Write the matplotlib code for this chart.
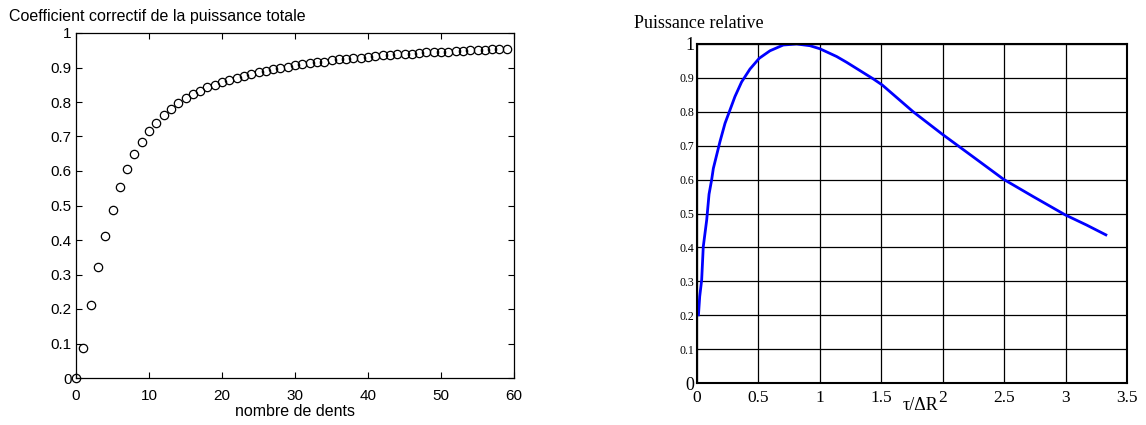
import numpy as np
import matplotlib.pyplot as plt

# left panel: correction coefficient vs number of teeth
dents = np.arange(0, 60)
coef = [0.0, 0.086, 0.212, 0.322, 0.411, 0.488, 0.553, 0.606, 0.649, 0.685,
        0.717, 0.739, 0.762, 0.781, 0.796, 0.811, 0.823, 0.833, 0.843, 0.850,
        0.859, 0.864, 0.869, 0.875, 0.882, 0.888, 0.890, 0.897, 0.900, 0.902,
        0.906, 0.909, 0.912, 0.915, 0.917, 0.921, 0.924, 0.926, 0.927, 0.928,
        0.929, 0.932, 0.935, 0.936, 0.938, 0.939, 0.940, 0.941, 0.944, 0.944,
        0.944, 0.946, 0.947, 0.949, 0.950, 0.950, 0.950, 0.953, 0.953, 0.954]

# right panel: relative power vs tau/dR^2
tau = [0.012, 0.022, 0.038, 0.051, 0.079, 0.098, 0.119, 0.133, 0.187, 0.228,
       0.263, 0.309, 0.363, 0.431, 0.507, 0.594, 0.702, 0.811, 0.919, 1.0,
       1.137, 1.218, 1.435, 1.508, 1.760, 1.996, 2.248, 2.495,
       2.736, 2.997, 3.171, 3.328]
puissance = [0.201, 0.255, 0.304, 0.402, 0.481, 0.557, 0.599, 0.633, 0.712, 0.766,
             0.800, 0.845, 0.888, 0.926, 0.958, 0.980, 0.997, 1.0, 0.995, 0.986,
             0.963, 0.946, 0.897, 0.879, 0.800, 0.734, 0.667, 0.601,
             0.550, 0.496, 0.466, 0.437]

W, H = 1146, 425
fig = plt.figure(figsize=(W / 100, H / 100), dpi=100)

# left axes (pixel box: x 76..514, y 33..378)
ax1 = fig.add_axes([76 / W, 1 - 378 / H, 438 / W, 345 / H])
ax1.plot(dents, coef, 'o', mfc='none', mec='black', ms=6, mew=0.9, clip_on=False)
ax1.set_xlim(0, 60)
ax1.set_ylim(0, 1)
ax1.set_xticks(range(0, 61, 10))
ax1.set_yticks(np.arange(0, 1.01, 0.1))
ax1.set_yticklabels(['0', '0.1', '0.2', '0.3', '0.4', '0.5', '0.6', '0.7', '0.8', '0.9', '1'])
ax1.tick_params(direction='in', top=True, right=True, labelsize=11, length=4, width=0.8)
ax1.tick_params(axis='x', pad=8)
ax1.tick_params(axis='y', pad=3)
for lab in ax1.get_xticklabels() + ax1.get_yticklabels():
    lab.set_family('Liberation Sans')
for s in ax1.spines.values():
    s.set_linewidth(0.9)
fig.text(295 / W, 1 - 411 / H, 'nombre de dents', family='Liberation Sans',
         fontsize=11.5, ha='center', va='center')
fig.text(9 / W, 1 - 16 / H, 'Coefficient correctif de la puissance totale',
         family='Liberation Sans', fontsize=11.5, va='center', ha='left')

# right axes (pixel box: x 697..1127, y 44..383)
ax2 = fig.add_axes([697 / W, 1 - 383 / H, 430 / W, 339 / H])
ax2.plot(tau, puissance, color='blue', lw=2)
ax2.set_xlim(0, 3.5)
ax2.set_ylim(0, 1)
ax2.set_xticks(np.arange(0, 3.51, 0.5))
ax2.set_xticklabels(['0', '0.5', '1', '1.5', '2', '2.5', '3', '3.5'])
ax2.set_yticks(np.arange(0, 1.01, 0.1))
ax2.set_yticklabels(['0', '0.1', '0.2', '0.3', '0.4', '0.5', '0.6', '0.7', '0.8', '0.9', '1'])
ax2.grid(True, color='black', lw=0.9)
ax2.tick_params(length=0)
ax2.tick_params(axis='x', pad=5)
ax2.tick_params(axis='y', pad=2)
for lab in ax2.get_xticklabels():
    lab.set_family('Liberation Serif')
    lab.set_fontsize(12.5)
for i, lab in enumerate(ax2.get_yticklabels()):
    lab.set_family('Liberation Serif')
    lab.set_fontsize(13 if i in (0, 10) else 8.5)
for s in ax2.spines.values():
    s.set_linewidth(1.5)

# x label sits just left of the "2" tick label, which reads as its exponent
fig.text(903 / W, 1 - 406 / H, 'τ/ΔR', family='Liberation Serif',
         fontsize=13, ha='left', va='center')
fig.text(634 / W, 1 - 23 / H, 'Puissance relative', family='Liberation Serif',
         fontsize=13, va='center', ha='left')

fig.savefig('out.png', dpi=100)
